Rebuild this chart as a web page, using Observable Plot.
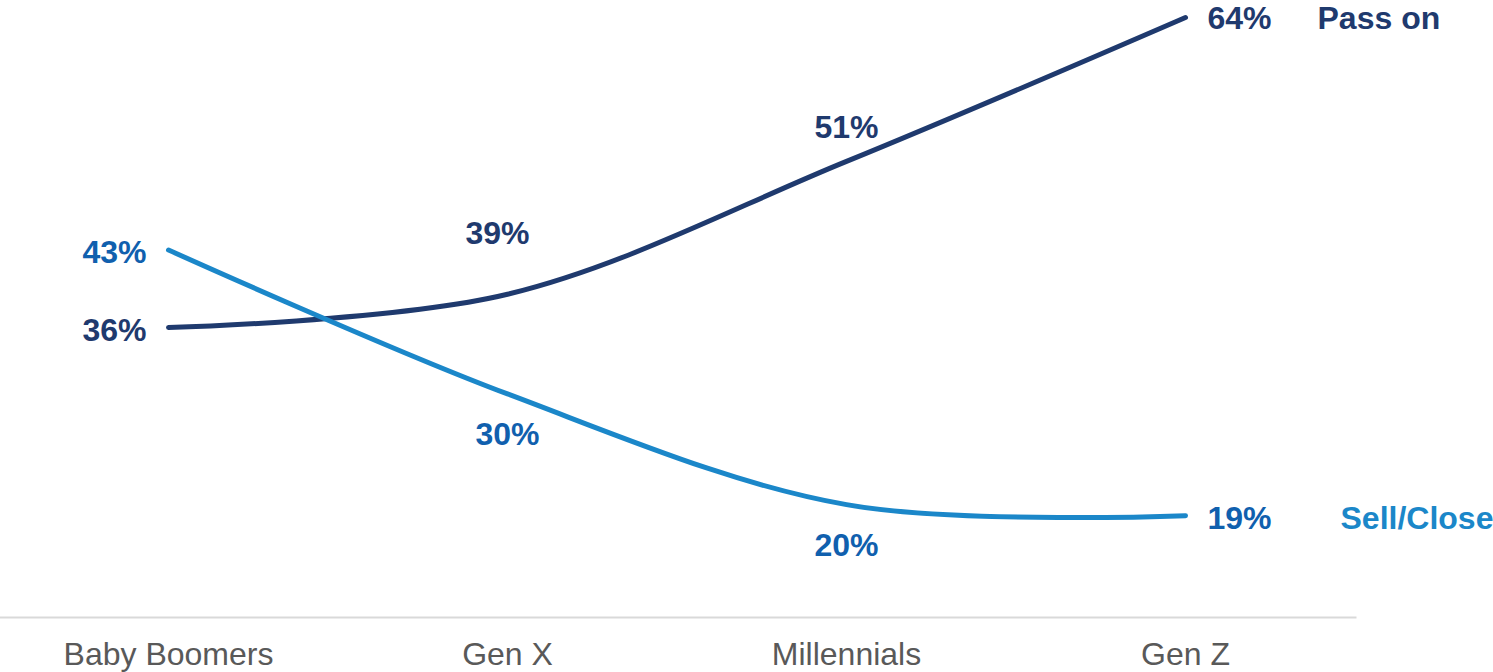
<!DOCTYPE html>
<html>
<head>
<meta charset="utf-8">
<script src="https://cdn.jsdelivr.net/npm/d3@7"></script>
<script src="https://cdn.jsdelivr.net/npm/@observablehq/plot@0.6"></script>
<style>
  html, body { margin: 0; padding: 0; background: #fff; }
  #chart svg { display: block; }
</style>
</head>
<body>
<div id="chart"></div>
<script>
const categories = ["Baby Boomers", "Gen X", "Millennials", "Gen Z"];
const passOn = [36, 39, 51, 64];
const sellClose = [43, 30, 20, 19];
const seriesNames = ["Pass on", "Sell/Close"];

const navy = "#1F3A6E";
const lightBlue = "#1B87C9";
const labelBlue = "#1060AE";

const passData = categories.map((c, i) => ({cat: c, v: passOn[i], series: seriesNames[0]}));
const sellData = categories.map((c, i) => ({cat: c, v: sellClose[i], series: seriesNames[1]}));

const font = "Liberation Sans, Arial, sans-serif";
const fs = 32;
const fmt = d => d.v + "%";
const txt = {x: "cat", y: "v", text: fmt, fontSize: fs, fontWeight: "bold", fontFamily: font};

const chart = Plot.plot({
  width: 1493,
  height: 672,
  marginLeft: 0,
  marginRight: 138,
  marginTop: 0,
  marginBottom: 55,
  style: {fontFamily: font, background: "white"},
  x: {type: "point", domain: categories, range: [167, 1186], padding: 0, axis: null},
  y: {domain: [36, 64], range: [327, 17], axis: null},
  marks: [
    Plot.frame({anchor: "bottom", stroke: "#D9D9D9", strokeWidth: 2}),
    Plot.axisX({tickSize: 0, tickPadding: 25, fontSize: fs, fill: "#595959", fontFamily: font, label: null}),
    Plot.line(passData, {x: "cat", y: "v", stroke: navy, strokeWidth: 5, curve: "catmull-rom", strokeLinecap: "round"}),
    Plot.line(sellData, {x: "cat", y: "v", stroke: lightBlue, strokeWidth: 5, curve: "catmull-rom", strokeLinecap: "round"}),
    // Baby Boomers labels (left)
    Plot.text(passData.slice(0, 1), {...txt, fill: navy, textAnchor: "end", dx: -22, dy: 3}),
    Plot.text(sellData.slice(0, 1), {...txt, fill: labelBlue, textAnchor: "end", dx: -22, dy: 3}),
    // Gen X
    Plot.text(passData.slice(1, 2), {...txt, fill: navy, dx: -10, dy: -61}),
    Plot.text(sellData.slice(1, 2), {...txt, fill: labelBlue, dx: 0, dy: 41}),
    // Millennials
    Plot.text(passData.slice(2, 3), {...txt, fill: navy, dx: 0, dy: -34}),
    Plot.text(sellData.slice(2, 3), {...txt, fill: labelBlue, dx: 0, dy: 41}),
    // Gen Z (right)
    Plot.text(passData.slice(3), {...txt, fill: navy, textAnchor: "start", dx: 22, dy: 1}),
    Plot.text(sellData.slice(3), {...txt, fill: labelBlue, textAnchor: "start", dx: 22, dy: 3}),
    // series names
    Plot.text(passData.slice(3), {x: "cat", y: "v", text: "series", fill: navy, textAnchor: "start", dx: 132, dy: 1, fontSize: fs, fontWeight: "bold", fontFamily: font}),
    Plot.text(sellData.slice(3), {x: "cat", y: "v", text: "series", fill: lightBlue, textAnchor: "start", dx: 155, dy: 3, fontSize: fs, fontWeight: "bold", fontFamily: font})
  ]
});
document.getElementById("chart").appendChild(chart);
</script>
</body>
</html>
